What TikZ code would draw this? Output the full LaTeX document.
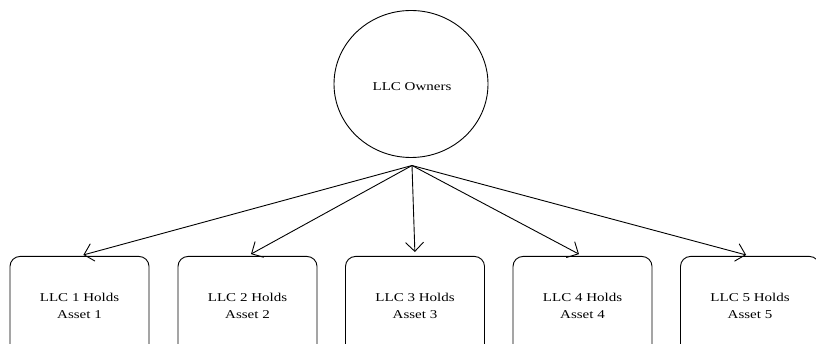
\documentclass[tikz,border=0pt]{standalone}
\usepackage{fontspec}
\setmainfont[FakeStretch=1.25]{Liberation Serif}
\usetikzlibrary{arrows.meta,shapes.geometric}
\begin{document}
\begin{tikzpicture}[x=1pt,y=-1pt, line width=0.9pt,
  holder/.style={draw, rounded corners=10pt, minimum width=139pt, minimum height=110pt, anchor=north, inner sep=0pt},
  lbl/.style={font=\fontsize{12pt}{17pt}\selectfont, align=center, inner sep=0pt},
  conn/.style={-{Straight Barb[length=9pt,width=18pt]}, shorten >=4pt}]
\useasboundingbox (0,0) rectangle (816,344);
\clip (0,0) rectangle (816,344);
\node[draw, ellipse, minimum width=154pt, minimum height=147pt, inner sep=0pt] (own) at (411,84) {};
\node[lbl, anchor=base] (ownt) at (412,91) {LLC Owners};
\coordinate (apex) at (412,165.5);
\foreach \i/\x in {1/79.5,2/247.5,3/415,4/582.5,5/750}{
  \node[holder] (b\i) at (\x,256) {};
  \node[lbl] (t\i) at (\x,306) {LLC \i\ Holds\\Asset \i};
  \draw[conn] (apex) -- (b\i.north);
}
\end{tikzpicture}
\end{document}
